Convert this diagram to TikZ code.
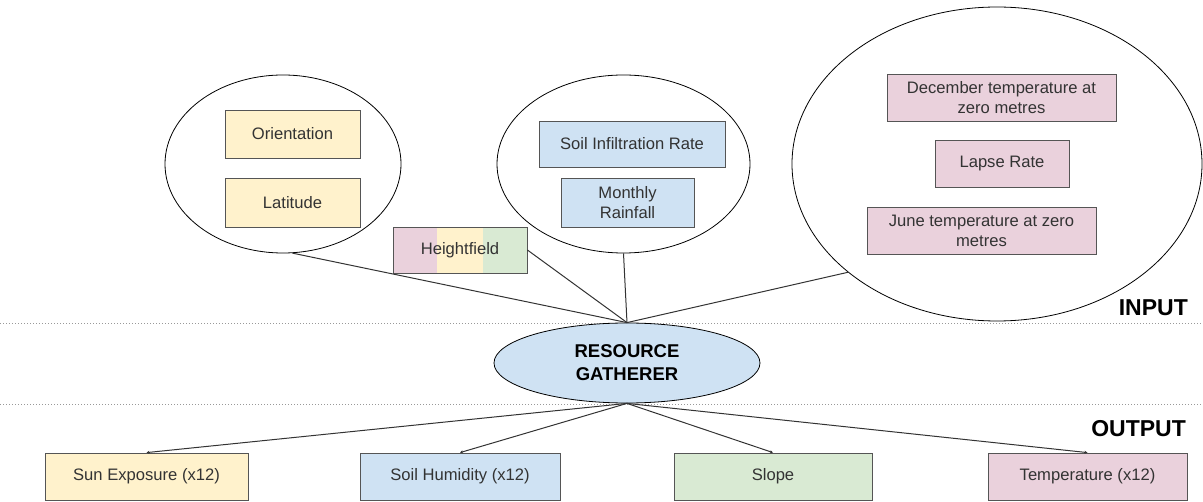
\documentclass[tikz,border=0pt]{standalone}
\usepackage{fontspec}
\setmainfont{Liberation Sans}
\usetikzlibrary{shapes.geometric,arrows.meta,calc,backgrounds}
\definecolor{yel}{HTML}{FFF2CC}
\definecolor{blu}{HTML}{CFE2F3}
\definecolor{grn}{HTML}{D9EAD3}
\definecolor{pnk}{HTML}{EAD1DC}
\definecolor{txt}{HTML}{333333}
\definecolor{edge}{HTML}{555555}
\tikzset{
  box/.style={draw=edge, line width=0.8pt, rectangle, inner sep=0pt, align=center, text=txt,
    font=\fontsize{16.6}{20}\selectfont},
  bubble/.style={draw=black, line width=0.8pt, ellipse, inner sep=0pt},
  link/.style={draw=txt, line width=1pt},
  outlink/.style={draw=txt, line width=1pt, -{Stealth[length=3pt,width=3pt]}},
  sep/.style={draw=gray!80, line width=0.8pt, dash pattern=on 1pt off 2pt},
  tag/.style={font=\fontsize{23}{23}\selectfont\bfseries, text=black, inner sep=0pt, anchor=east}
}
\begin{document}
\begin{tikzpicture}[x=1pt,y=-1pt]
\useasboundingbox (0,0) rectangle (1203,502);
% separators
\coordinate (s1a) at (0,323); \coordinate (s1b) at (1203,323);
\coordinate (s2a) at (0,404); \coordinate (s2b) at (1203,404);
\draw[sep] (s1a) -- (s1b);
\draw[sep] (s2a) -- (s2b);
% input bubbles
\node[bubble, minimum width=236pt, minimum height=178pt] (lell) at (283,164) {};
\node[bubble, minimum width=253pt, minimum height=178pt] (mell) at (623.5,164) {};
\node[bubble, minimum width=410pt, minimum height=314pt] (rell) at (997,164) {};
% boxes in bubbles
\node[box, fill=yel, minimum width=135pt, minimum height=48pt] (ori) at (292.5,134) {Orientation};
\node[box, fill=yel, minimum width=135pt, minimum height=49pt] (lat) at (292.5,202.5) {Latitude};
\node[box, fill=blu, minimum width=186pt, minimum height=46pt] (sir) at (632,144) {Soil Infiltration Rate};
\node[box, fill=blu, minimum width=133pt, minimum height=49pt] (mr) at (627.5,202.5) {Monthly\\Rainfall};
\node[box, fill=pnk, minimum width=229pt, minimum height=47pt] (dec) at (1001.5,97.5) {December temperature at\\zero metres};
\node[box, fill=pnk, minimum width=134pt, minimum height=47pt] (lap) at (1002,163.5) {Lapse Rate};
\node[box, fill=pnk, minimum width=229pt, minimum height=47pt] (jun) at (981.5,230.5) {June temperature at zero\\metres};
% heightfield
\node[box, minimum width=134pt, minimum height=46pt] (hf) at (460,250) {Heightfield};
\begin{pgfonlayer}{background}
  \fill[pnk] (hf.south west) rectangle ($(hf.north west)!0.33!(hf.north east)$);
  \fill[yel] ($(hf.south west)!0.33!(hf.south east)$) rectangle ($(hf.north west)!0.67!(hf.north east)$);
  \fill[grn] ($(hf.south west)!0.67!(hf.south east)$) rectangle (hf.north east);
\end{pgfonlayer}
% resource gatherer
\node[draw=black, line width=0.8pt, ellipse, fill=blu, minimum width=266pt, minimum height=80pt, inner sep=0pt,
  align=center, font=\fontsize{18.5}{23}\selectfont\bfseries, text=black] (rg) at (627,363) {RESOURCE\\GATHERER};
% inputs to gatherer
\draw[link] (lell.-84) -- (rg.north);
\draw[link] (hf.east) -- (rg.north);
\draw[link] (mell.south) -- (rg.north);
\draw[link] (rell.216) -- (rg.north);
% outputs
\node[box, fill=yel, minimum width=203pt, minimum height=47pt] (sun) at (146.5,476.5) {Sun Exposure (x12)};
\node[box, fill=blu, minimum width=200pt, minimum height=47pt] (hum) at (460,476.5) {Soil Humidity (x12)};
\node[box, fill=grn, minimum width=198pt, minimum height=47pt] (slo) at (773,476.5) {Slope};
\node[box, fill=pnk, minimum width=199pt, minimum height=47pt] (tem) at (1087.5,476.5) {Temperature (x12)};
\draw[outlink] (rg.south) -- (sun.north);
\draw[outlink] (rg.south) -- (hum.north);
\draw[outlink] (rg.south) -- (slo.north);
\draw[outlink] (rg.south) -- (tem.north);
% labels
\node[tag] (inp) at (1188,307.5) {INPUT};
\node[tag] (outp) at (1186,428.5) {OUTPUT};
\end{tikzpicture}
\end{document}
